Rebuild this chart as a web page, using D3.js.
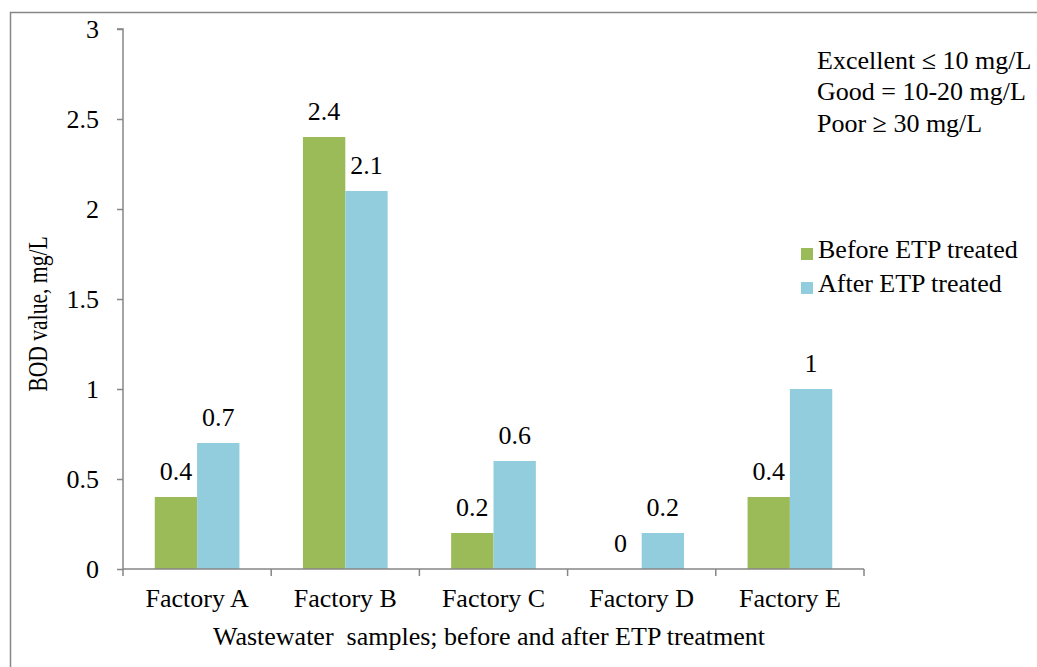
<!DOCTYPE html>
<html>
<head>
<meta charset="utf-8">
<script src="https://cdn.jsdelivr.net/npm/d3@7"></script>
<style>
  html, body { margin: 0; padding: 0; background: #fff; }
</style>
</head>
<body>
<svg id="chart" width="1037" height="667"></svg>
<script>
// BOD measurements per factory, before and after effluent treatment
const categories = ["Factory A", "Factory B", "Factory C", "Factory D", "Factory E"];
const seriesNames = ["Before ETP treated", "After ETP treated"];
const beforeValues = [0.4, 2.4, 0.2, 0, 0.4];
const afterValues = [0.7, 2.1, 0.6, 0.2, 1];
const yTicks = [0, 0.5, 1, 1.5, 2, 2.5, 3];
const noteLines = ["Excellent \u2264 10 mg/L", "Good = 10-20 mg/L", "Poor \u2265 30 mg/L"];
const colors = ["#9BBB59", "#92CDDD"];

const FONT = "'Liberation Serif', 'Times New Roman', serif";
const FS = 26;
const svg = d3.select("#chart").attr("font-family", FONT);
const axisColor = "#868686";

// outer chart frame
svg.append("rect")
  .attr("x", 10.5).attr("y", 12.5)
  .attr("width", 1100).attr("height", 700)
  .attr("fill", "none").attr("stroke", axisColor).attr("stroke-width", 1.5);

const plot = { left: 123, right: 864, top: 29, bottom: 569 };

const x = d3.scaleBand().domain(categories).range([plot.left, plot.right]).paddingInner(0).paddingOuter(0);
const y = d3.scaleLinear().domain([0, 3]).range([plot.bottom, plot.top]);
const groupWidth = x.bandwidth() * (2 / 3.5);
const xs = d3.scaleBand().domain(seriesNames).range([0, groupWidth]).padding(0);

const rows = categories.map((c, i) => ({ cat: c, values: [beforeValues[i], afterValues[i]] }));

// bars
const groups = svg.append("g").selectAll("g").data(rows).join("g")
  .attr("transform", d => `translate(${x(d.cat) + (x.bandwidth() - groupWidth) / 2},0)`);

groups.selectAll("rect").data(d => d.values.map((v, k) => ({ v, k })))
  .join("rect")
  .attr("x", d => xs(seriesNames[d.k]))
  .attr("y", d => y(d.v))
  .attr("width", xs.bandwidth())
  .attr("height", d => y(0) - y(d.v))
  .attr("fill", d => colors[d.k]);

// value labels
groups.selectAll("text").data(d => d.values.map((v, k) => ({ v, k })))
  .join("text")
  .attr("x", d => xs(seriesNames[d.k]) + xs.bandwidth() / 2)
  .attr("y", d => y(d.v) - 17)
  .attr("text-anchor", "middle")
  .attr("font-size", FS)
  .attr("font-family", FONT)
  .attr("fill", "#000")
  .text(d => d3.format("")(d.v));

// y axis
const yAxis = svg.append("g")
  .attr("transform", `translate(${plot.left},0)`)
  .call(d3.axisLeft(y).tickValues(yTicks).tickSize(6).tickPadding(18).tickFormat(d3.format("")));
yAxis.attr("font-family", FONT);
yAxis.select(".domain").attr("stroke", axisColor).attr("stroke-width", 1.5)
  .attr("d", `M-6,${y(3)}H0V${y(0)}`);
yAxis.selectAll(".tick line").attr("stroke", axisColor).attr("stroke-width", 1.5);
yAxis.selectAll(".tick text").attr("font-size", FS).attr("fill", "#000").attr("font-family", FONT);

// x axis
const xAxis = svg.append("g")
  .attr("transform", `translate(0,${plot.bottom})`)
  .call(d3.axisBottom(x).tickSize(0).tickPadding(20));
xAxis.attr("font-family", FONT);
xAxis.select(".domain").attr("stroke", axisColor).attr("stroke-width", 1.5)
  .attr("d", `M${plot.left},0H${plot.right}`);
xAxis.selectAll(".tick text").attr("font-size", FS).attr("fill", "#000").attr("font-family", FONT);
// category boundary ticks
const boundaries = categories.map(c => x(c)).concat([plot.right]);
xAxis.selectAll("line.bound").data(boundaries).join("line")
  .attr("class", "bound")
  .attr("x1", d => d).attr("x2", d => d)
  .attr("y1", 0).attr("y2", 7)
  .attr("stroke", axisColor).attr("stroke-width", 1.5);

// axis titles
svg.append("text")
  .attr("transform", "translate(47,314) rotate(-90) scale(0.9,1.1)")
  .attr("text-anchor", "middle")
  .attr("font-size", 24)
  .attr("font-family", FONT)
  .text("BOD value, mg/L");

svg.append("text")
  .attr("x", 489).attr("y", 645)
  .attr("text-anchor", "middle")
  .attr("font-size", FS)
  .attr("font-family", FONT)
  .attr("xml:space", "preserve")
  .style("white-space", "pre")
  .text("Wastewater  samples; before and after ETP treatment");

// legend
const legend = svg.append("g").attr("transform", "translate(801,248)");
seriesNames.forEach((name, i) => {
  const g = legend.append("g").attr("transform", `translate(0,${i * 34})`);
  g.append("rect").attr("x", 0).attr("y", 0).attr("width", 12).attr("height", 12).attr("fill", colors[i]);
  g.append("text").attr("x", 17).attr("y", 10).attr("font-size", FS).attr("font-family", FONT).text(name);
});

// quality classification note
svg.append("g").selectAll("text").data(noteLines).join("text")
  .attr("x", 817)
  .attr("y", (d, i) => 69 + i * 31.3)
  .attr("font-size", FS)
  .attr("font-family", FONT)
  .text(d => d);
</script>
</body>
</html>
